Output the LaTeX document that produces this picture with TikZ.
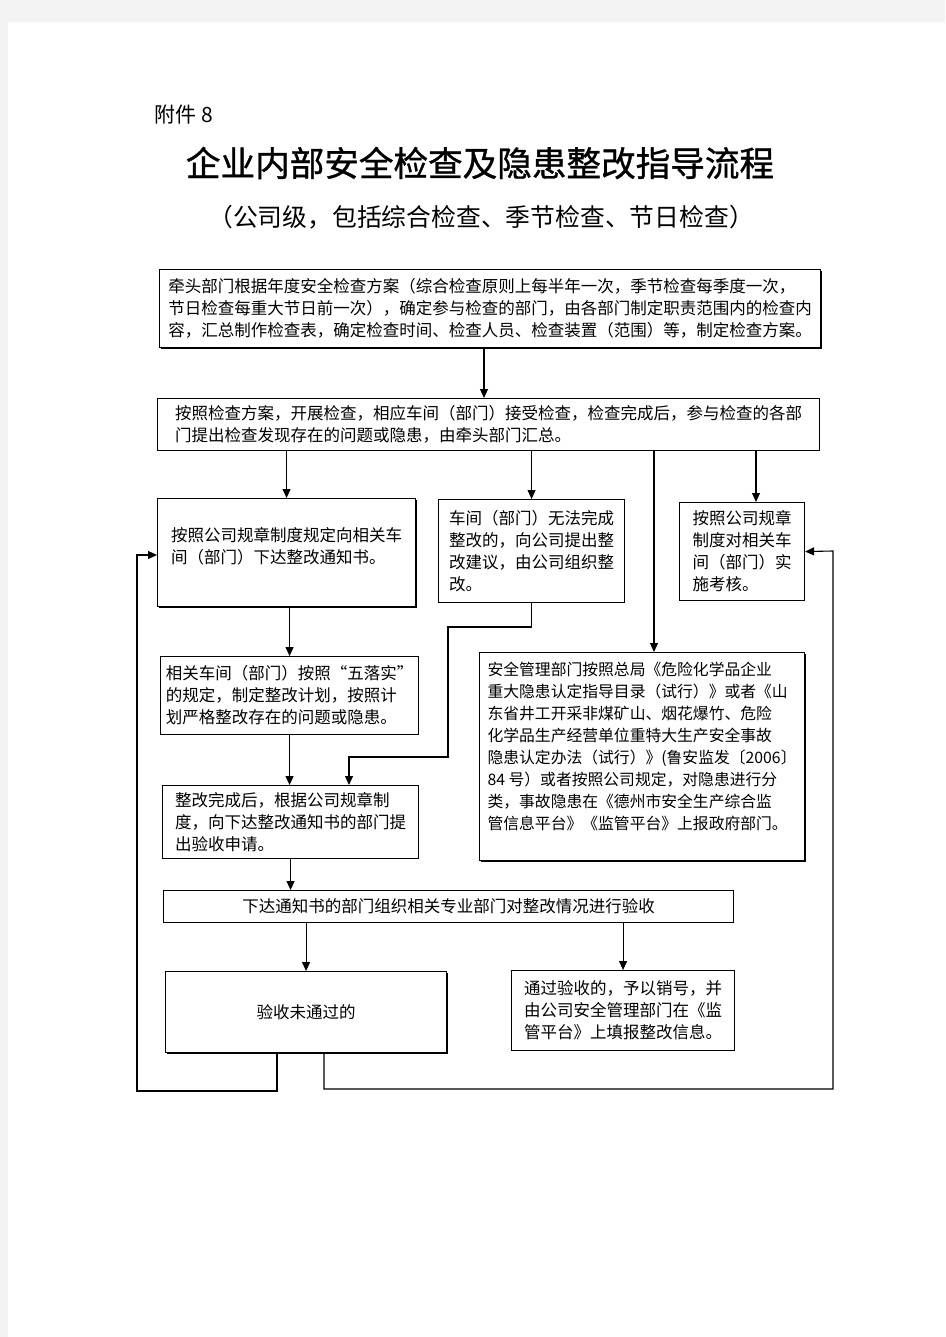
\documentclass[tikz,border=0pt]{standalone}
\usepackage{fontspec}
\setmainfont{Noto Sans CJK SC}
\newfontfamily\heiti[FakeBold=1]{Noto Sans CJK SC}
\usetikzlibrary{arrows.meta,shadows}
\definecolor{pagegrey}{RGB}{243,243,243}
\newcommand{\bodyfont}{\fontsize{16.5pt}{22pt}\selectfont}

\begin{document}
\begin{tikzpicture}[x=1pt,y=-1pt,
		box/.style={draw, line width=1.1pt, fill=white, align=left, inner sep=0pt, anchor=north west, font=\bodyfont},
		shadowbox/.style={box, general shadow={fill=black, shadow xshift=1.3pt, shadow yshift=-1.3pt}},
		arr/.style={-{Triangle[length=9pt,width=8pt]}, line width=1.1pt},
		link/.style={line width=1.1pt}]
	\useasboundingbox (0,0) rectangle (945,1337);
	\fill[pagegrey] (0,0) rectangle (945,1337);
	\fill[white] (8,22) rectangle (945,1337);
	% titles
	\node[anchor=west, font=\fontsize{21pt}{24pt}\selectfont] (annex) at (151,115) {附件 8};
	\node[font=\heiti\fontsize{34.6pt}{38pt}\selectfont] (title) at (480,163) {企业内部安全检查及隐患整改指导流程};
	\node[font=\fontsize{24.8pt}{28pt}\selectfont] (subtitle) at (481,217) {（公司级，包括综合检查、季节检查、节日检查）};
	% boxes
	\node[shadowbox, minimum width=661pt, minimum height=78pt] (plan) at (159,269) {牵头部门根据年度安全检查方案（综合检查原则上每半年一次，季节检查每季度一次，\\节日检查每重大节日前一次），确定参与检查的部门，由各部门制定职责范围内的检查内\\容，汇总制作检查表，确定检查时间、检查人员、检查装置（范围）等，制定检查方案。};
	\node[box, minimum width=662pt, minimum height=52pt] (check) at (157,398) {按照检查方案，开展检查，相应车间（部门）接受检查，检查完成后，参与检查的各部\\门提出检查发现存在的问题或隐患，由牵头部门汇总。};
	\node[shadowbox, minimum width=258pt, minimum height=108pt] (notice) at (157,498) {按照公司规章制度规定向相关车\\间（部门）下达整改通知书。\\[-8pt]\mbox{}};
	\node[box, minimum width=186pt, minimum height=103pt] (unable) at (438,499) {车间（部门）无法完成\\整改的，向公司提出整\\改建议，由公司组织整\\改。};
	\node[box, minimum width=125pt, minimum height=98pt] (assess) at (679,502) {按照公司规章\\制度对相关车\\间（部门）实\\施考核。};
	\node[box, minimum width=258pt, minimum height=78pt] (rectify) at (160,656) {相关车间（部门）按照“五落实”\\的规定，制定整改计划，按照计\\划严格整改存在的问题或隐患。};
	\node[box, minimum width=256pt, minimum height=73pt] (apply) at (162,785) {整改完成后，根据公司规章制\\度，向下达整改通知书的部门提\\出验收申请。};
	\node[shadowbox, minimum width=325pt, minimum height=208pt, font=\fontsize{15.8pt}{22pt}\selectfont] (report) at (479,652) {安全管理部门按照总局《危险化学品企业\\重大隐患认定指导目录（试行）》或者《山\\东省井工开采非煤矿山、烟花爆竹、危险\\化学品生产经营单位重特大生产安全事故\\隐患认定办法（试行）》(鲁安监发〔2006〕\\84 号）或者按照公司规定，对隐患进行分\\类，事故隐患在《德州市安全生产综合监\\管信息平台》《监管平台》上报政府部门。\\\mbox{}};
	\node[box, minimum width=570pt, minimum height=32pt] (accept) at (163,890) {下达通知书的部门组织相关专业部门对整改情况进行验收};
	\node[shadowbox, minimum width=281pt, minimum height=81pt] (fail) at (165,971) {验收未通过的};
	\node[box, minimum width=223pt, minimum height=80pt] (pass) at (511,970) {通过验收的，予以销号，并\\由公司安全管理部门在《监\\管平台》上填报整改信息。};
	% arrows
	\draw[arr] (plan.south -| 484,0) -- (check.north -| 484,0);
	\draw[arr] (check.south -| notice.north) -- (notice.north);
	\draw[arr] (check.south -| unable.north) -- (unable.north);
	\draw[arr] (check.south -| 654,0) -- (report.north -| 654,0);
	\draw[arr] (check.south -| 756,0) -- (assess.north -| 756,0);
	\draw[arr] (notice.south -| rectify.north) -- (rectify.north);
	\draw[arr] (unable.south) -- (unable.south |- 0,627) -- (448,627) -- (448,757) -- (349,757) -- (apply.north -| 349,0);
	\draw[arr] (rectify.south) -- (rectify.south |- apply.north);
	\draw[arr] (apply.south) -- (apply.south |- accept.north);
	\draw[arr] (accept.south -| fail.north) -- (fail.north);
	\draw[arr] (accept.south -| pass.north) -- (pass.north);
	\draw[arr] (fail.south -| 277,0) -- (277,1091) -- (137,1091) -- (137,555) -- (notice.west |- 0,555);
	\draw[arr] (fail.south -| 324,0) -- (324,1089) -- (833,1089) -- (833,551) -- (assess.east);
\end{tikzpicture}
\end{document}
